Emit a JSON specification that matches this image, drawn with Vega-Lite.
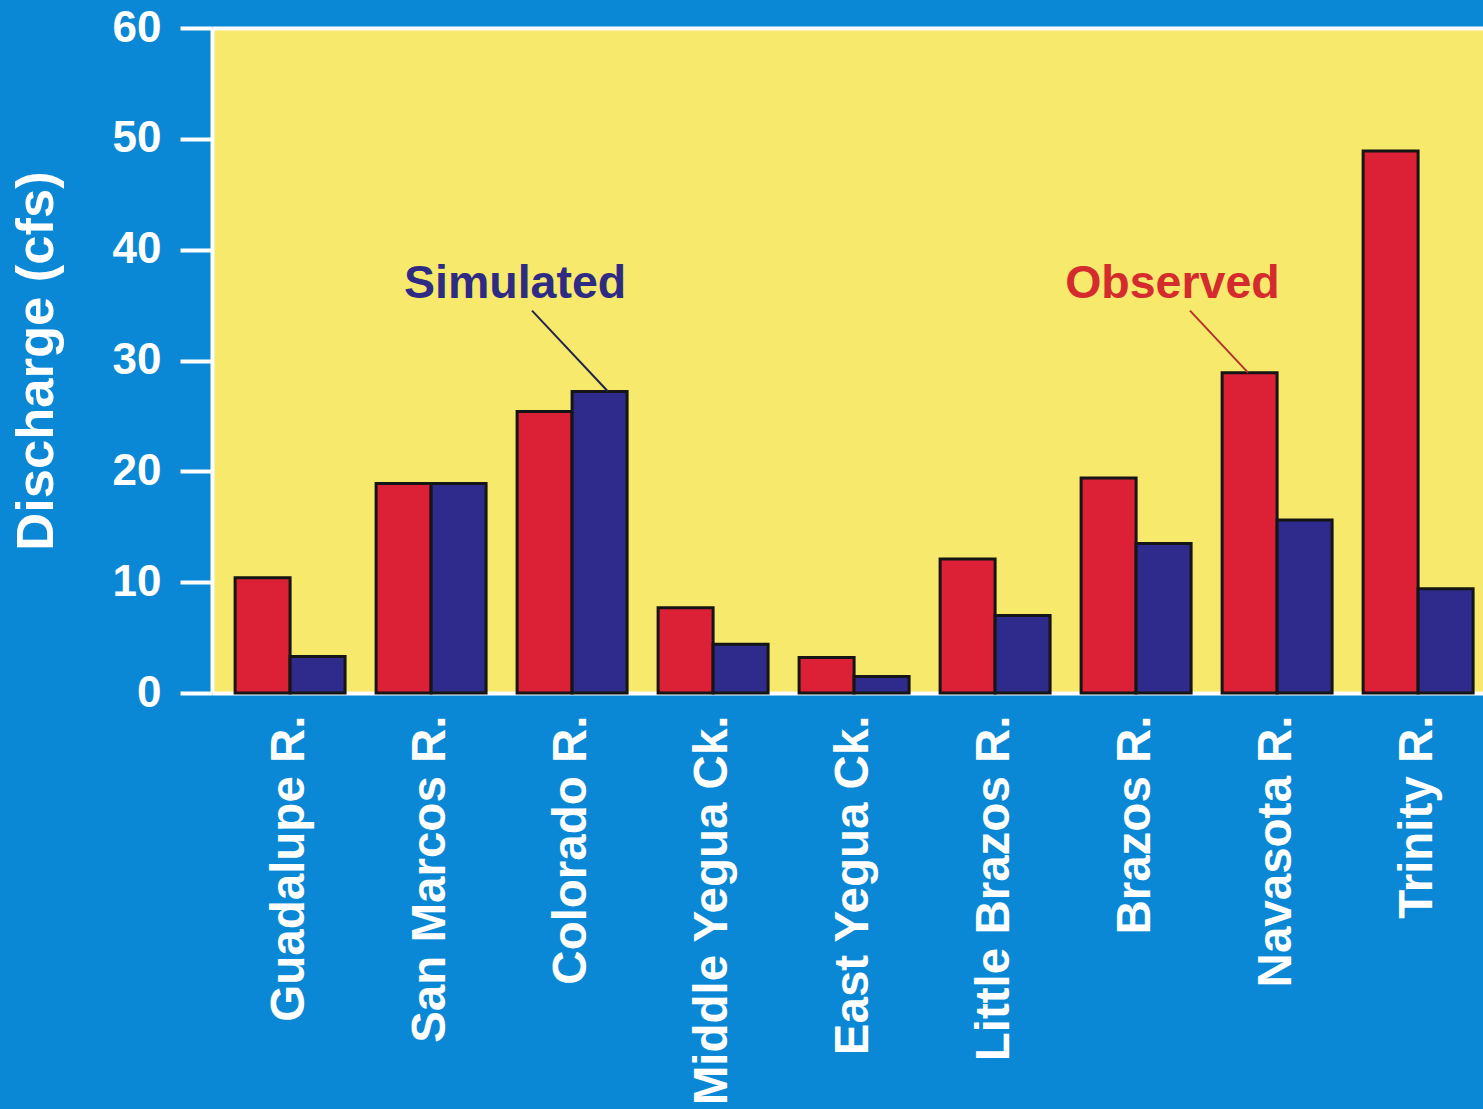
{
  "$schema": "https://vega.github.io/schema/vega-lite/v6.json",
  "width": 1271,
  "height": 665,
  "autosize": {"type": "none"},
  "padding": {"left": 212, "top": 28, "right": 0, "bottom": 416},
  "background": "#0b88d5",
  "config": {
    "view": {"fill": "#f6e96b", "stroke": null},
    "font": "Liberation Sans"
  },
  "datasets": {
    "bars": [
      {"river": "Guadalupe R.", "series": "Observed", "discharge": 10.4},
      {"river": "Guadalupe R.", "series": "Simulated", "discharge": 3.3},
      {"river": "San Marcos R.", "series": "Observed", "discharge": 18.9},
      {"river": "San Marcos R.", "series": "Simulated", "discharge": 18.9},
      {"river": "Colorado R.", "series": "Observed", "discharge": 25.4},
      {"river": "Colorado R.", "series": "Simulated", "discharge": 27.2},
      {"river": "Middle Yegua Ck.", "series": "Observed", "discharge": 7.7},
      {"river": "Middle Yegua Ck.", "series": "Simulated", "discharge": 4.4},
      {"river": "East Yegua Ck.", "series": "Observed", "discharge": 3.2},
      {"river": "East Yegua Ck.", "series": "Simulated", "discharge": 1.5},
      {"river": "Little Brazos R.", "series": "Observed", "discharge": 12.1},
      {"river": "Little Brazos R.", "series": "Simulated", "discharge": 7.0},
      {"river": "Brazos R.", "series": "Observed", "discharge": 19.4},
      {"river": "Brazos R.", "series": "Simulated", "discharge": 13.5},
      {"river": "Navasota R.", "series": "Observed", "discharge": 28.9},
      {"river": "Navasota R.", "series": "Simulated", "discharge": 15.6},
      {"river": "Trinity R.", "series": "Observed", "discharge": 48.9},
      {"river": "Trinity R.", "series": "Simulated", "discharge": 9.4}
    ],
    "labels": [
      {"series": "Simulated", "x": 2.146, "y": 36.9},
      {"series": "Observed", "x": 6.801, "y": 36.9}
    ],
    "leaders": [
      {"series": "Simulated", "x1": 2.266, "y1": 34.5, "x2": 2.804, "y2": 27.2},
      {"series": "Observed", "x1": 6.925, "y1": 34.5, "x2": 7.336, "y2": 28.9}
    ]
  },
  "layer": [
    {
      "data": {"name": "bars"},
      "mark": {"type": "bar", "stroke": "#151515", "strokeWidth": 3},
      "encoding": {
        "x": {
          "field": "river",
          "type": "nominal",
          "sort": null,
          "scale": {"paddingInner": 0.22, "paddingOuter": 0.117, "align": 0.7},
          "axis": {
            "title": null,
            "labelAngle": -90,
            "labelColor": "white",
            "labelFont": "Liberation Sans",
            "labelFontSize": 47.5,
            "labelFontWeight": "bold",
            "labelPadding": 22,
            "labelLimit": 600,
            "labelOverlap": false,
            "ticks": false,
            "domain": false,
            "grid": false
          }
        },
        "xOffset": {
          "field": "series",
          "type": "nominal",
          "sort": ["Observed", "Simulated"],
          "scale": {"paddingInner": 0, "paddingOuter": 0}
        },
        "y": {
          "field": "discharge",
          "type": "quantitative",
          "scale": {"domain": [0, 60], "nice": false},
          "axis": {
            "title": "Discharge (cfs)",
            "values": [0, 10, 20, 30, 40, 50, 60],
            "domain": true,
            "domainColor": "white",
            "domainWidth": 4,
            "ticks": true,
            "tickColor": "white",
            "tickWidth": 4,
            "tickSize": 32,
            "labelColor": "white",
            "labelFont": "Liberation Sans",
            "labelFontWeight": "bold",
            "labelFontSize": 44,
            "labelPadding": 19,
            "titleColor": "white",
            "titleFont": "Liberation Sans",
            "titleFontSize": 52.5,
            "titleFontWeight": "bold",
            "titlePadding": 49,
            "grid": true,
            "gridColor": {"condition": {"test": "datum.value === 0 || datum.value === 60", "value": "white"}, "value": "transparent"},
            "gridWidth": 4
          }
        },
        "color": {
          "field": "series",
          "type": "nominal",
          "scale": {"domain": ["Observed", "Simulated"], "range": ["#dc2136", "#2e2b8c"]},
          "legend": null
        }
      }
    },
    {
      "data": {"name": "leaders"},
      "mark": {"type": "rule", "strokeWidth": 2},
      "encoding": {
        "x": {"field": "x1", "type": "quantitative", "scale": {"domain": [0, 9], "nice": false, "zero": false}, "axis": null},
        "x2": {"field": "x2"},
        "y": {"field": "y1", "type": "quantitative"},
        "y2": {"field": "y2"},
        "color": {
          "field": "series",
          "type": "nominal",
          "scale": {"domain": ["Observed", "Simulated"], "range": ["#b3352a", "#23234f"]},
          "legend": null
        }
      }
    },
    {
      "data": {"name": "labels"},
      "mark": {"type": "text", "font": "Liberation Sans", "fontSize": 46.5, "fontWeight": "bold", "align": "center", "baseline": "middle"},
      "encoding": {
        "x": {"field": "x", "type": "quantitative", "scale": {"domain": [0, 9], "nice": false, "zero": false}, "axis": null},
        "y": {"field": "y", "type": "quantitative"},
        "text": {"field": "series"},
        "color": {
          "field": "series",
          "type": "nominal",
          "scale": {"domain": ["Observed", "Simulated"], "range": ["#d42c2e", "#2e2b85"]},
          "legend": null
        }
      }
    }
  ],
  "resolve": {"scale": {"x": "independent", "color": "independent"}}
}
